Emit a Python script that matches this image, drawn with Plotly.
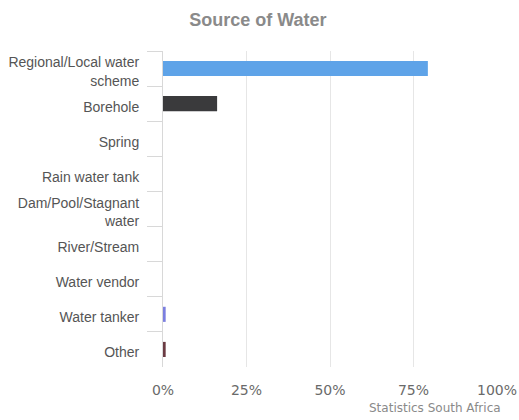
import plotly.graph_objects as go

# Household source of water, share of households (%)
categories = [
    "Regional/Local water<br>scheme",
    "Borehole",
    "Spring",
    "Rain water tank",
    "Dam/Pool/Stagnant<br>water",
    "River/Stream",
    "Water vendor",
    "Water tanker",
    "Other",
]
shares = [79.3, 16.2, 0.0, 0.0, 0.0, 0.0, 0.0, 0.8, 0.8]
bar_colors = ["#5ea3e8", "#3a3a3c", "#90ed7d", "#f7a35c", "#1aadce",
              "#f15c80", "#e4d354", "#7b7fe0", "#6b3b43"]
x_ticks = [0, 25, 50, 75, 100]

fig = go.Figure(
    go.Bar(
        x=shares,
        y=categories,
        orientation="h",
        marker=dict(color=bar_colors, line=dict(width=0)),
        hovertemplate="%{y}: %{x}%<extra></extra>",
    )
)

fig.update_layout(
    width=519,
    height=420,
    margin=dict(l=163, r=22, t=51, b=53),
    paper_bgcolor="white",
    plot_bgcolor="white",
    bargap=0.57,
    showlegend=False,
    title=dict(
        text="<b>Source of Water</b>",
        x=0.497,
        xanchor="center",
        y=0.952,
        yanchor="middle",
        font=dict(family="Liberation Sans, Arial", size=18, color="#8a8a8a"),
    ),
    xaxis=dict(
        range=[0, 100],
        tickvals=x_ticks,
        ticktext=[f"{v}%" for v in x_ticks],
        showgrid=True,
        gridcolor="#e6e6e6",
        gridwidth=1,
        zeroline=False,
        showline=False,
        ticks="",
        ticklabelstandoff=13,
        tickfont=dict(family="DejaVu Sans, Verdana", size=14, color="#6a6a6a"),
        automargin=False,
        fixedrange=True,
    ),
    yaxis=dict(
        autorange="reversed",
        showgrid=False,
        showline=True,
        linecolor="#d8d8d8",
        linewidth=1,
        ticks="outside",
        tickson="boundaries",
        ticklen=15,
        tickcolor="#d8d8d8",
        tickwidth=1,
        ticklabelstandoff=20,
        ticklabelshift=-3,
        tickfont=dict(family="Liberation Sans, Arial", size=14, color="#555555"),
        automargin=False,
        fixedrange=True,
    ),
    annotations=[
        dict(
            text="Statistics South Africa",
            xref="paper",
            yref="paper",
            x=(503 - 163) / (519 - 163 - 22),
            y=-(408 - 367) / (420 - 51 - 53),
            xanchor="right",
            yanchor="middle",
            showarrow=False,
            font=dict(family="DejaVu Sans, Verdana", size=12, color="#8a8a8a"),
        )
    ],
)

fig.write_html("out.html")
